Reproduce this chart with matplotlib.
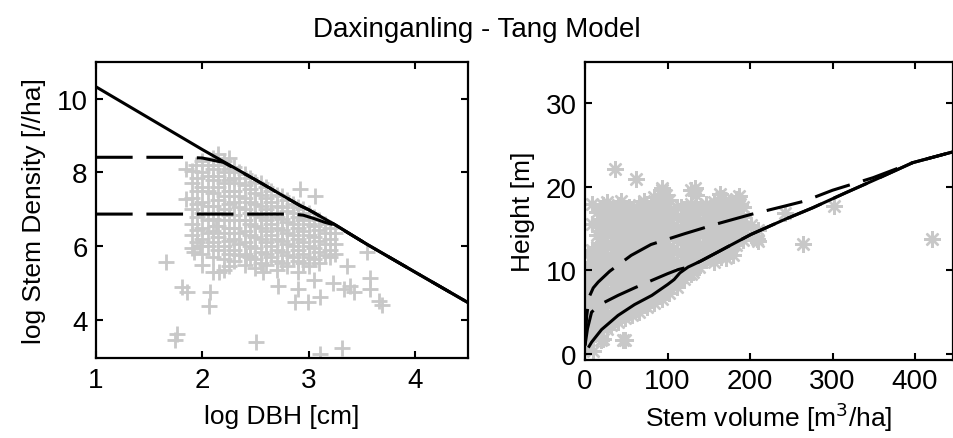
import numpy as np
import matplotlib.pyplot as plt

plt.rcParams['font.family'] = ['Liberation Sans', 'DejaVu Sans']

gray = '#c8c8c8'

# ---- left panel: log DBH vs log stem density ----
# scattered outliers
out_l_x = [1.66, 1.81, 1.86, 2.07, 2.06, 1.76, 1.74, 2.51, 3.11, 3.31, 3.66, 3.58, 3.58, 3.69,
           3.39, 3.33, 3.43, 3.23, 3.11, 3.05, 2.99, 2.87, 2.90, 2.71, 2.57, 3.55, 3.36, 2.92,
           3.06, 1.85, 1.85, 1.94, 1.98, 1.92, 2.16, 2.25, 2.41, 2.13]
out_l_y = [5.56, 4.88, 4.75, 4.76, 4.38, 3.61, 3.45, 3.39, 3.07, 3.25, 4.52, 5.15, 4.85, 4.40,
           4.93, 4.84, 4.76, 5.00, 4.61, 5.09, 4.50, 4.50, 4.83, 4.93, 5.29, 5.83, 5.47, 7.55,
           7.37, 7.28, 8.10, 8.19, 6.01, 5.83, 5.29, 5.47, 5.74, 6.55]
# dense cloud, column by column
col_l_x = [1.90, 1.95, 2.00, 2.05, 2.10, 2.15, 2.20, 2.25, 2.30, 2.35, 2.40, 2.45, 2.50,
           2.55, 2.60, 2.65, 2.70, 2.75, 2.80, 2.85, 2.90, 2.95, 3.00, 3.05, 3.10, 3.15,
           3.20, 3.25]
col_l_y = [[8.05, 7.70, 7.30, 7.00, 6.60, 6.30, 5.95],
           [7.85, 7.50, 7.15, 6.80, 6.45, 6.10],
           [8.30, 8.00, 7.60, 7.20, 6.90, 6.50, 6.20, 5.80, 5.50],
           [8.20, 7.90, 7.50, 7.10, 6.70, 6.35, 6.00],
           [8.40, 8.10, 7.80, 7.45, 7.10, 6.75, 6.40, 6.10, 5.70, 5.30],
           [8.50, 8.20, 7.90, 7.60, 7.25, 6.90, 6.55, 6.25, 5.90],
           [8.30, 8.00, 7.70, 7.35, 7.00, 6.70, 6.35, 6.00, 5.65, 5.35],
           [8.40, 8.10, 7.80, 7.50, 7.15, 6.85, 6.50, 6.15, 5.80],
           [8.15, 7.85, 7.50, 7.20, 6.85, 6.50, 6.20, 5.90, 5.60],
           [8.00, 7.70, 7.35, 7.05, 6.70, 6.35, 6.05, 5.75],
           [7.95, 7.65, 7.30, 7.00, 6.70, 6.40, 6.10, 5.80, 5.50],
           [7.85, 7.55, 7.20, 6.90, 6.60, 6.30, 6.00, 5.70],
           [7.75, 7.45, 7.15, 6.85, 6.55, 6.25, 5.95, 5.65, 5.40],
           [7.70, 7.40, 7.10, 6.80, 6.50, 6.20, 5.85, 5.55],
           [7.60, 7.30, 7.00, 6.70, 6.40, 6.10, 5.80, 5.50],
           [7.50, 7.20, 6.90, 6.60, 6.30, 6.00, 5.70],
           [7.40, 7.10, 6.80, 6.50, 6.20, 5.90, 5.60, 5.35],
           [7.35, 7.05, 6.75, 6.45, 6.15, 5.85, 5.55],
           [7.25, 6.95, 6.65, 6.35, 6.05, 5.75, 5.45],
           [7.15, 6.90, 6.60, 6.30, 6.00, 5.70],
           [7.05, 6.80, 6.50, 6.20, 5.90, 5.60, 5.30],
           [7.00, 6.70, 6.40, 6.10, 5.80, 5.55],
           [6.90, 6.60, 6.30, 6.00, 5.70, 5.45],
           [6.80, 6.55, 6.25, 5.95, 5.65],
           [6.70, 6.45, 6.15, 5.85, 5.55],
           [6.60, 6.35, 6.05, 5.75],
           [6.50, 6.20, 5.90, 5.70],
           [6.35, 6.05, 5.80]]

solid_l_x = [1.0, 1.5, 2.0, 2.5, 2.92, 3.0, 3.25, 3.55, 4.0, 4.5]
solid_l_y = [10.32, 9.47, 8.62, 7.80, 7.10, 6.99, 6.58, 6.05, 5.30, 4.47]
dash1_l_x = [1.0, 1.8, 2.0, 2.1, 2.2, 2.5, 2.92, 3.0, 3.25, 3.55, 4.0, 4.5]
dash1_l_y = [8.41, 8.41, 8.39, 8.33, 8.27, 7.80, 7.10, 6.99, 6.58, 6.05, 5.30, 4.47]
dash2_l_x = [1.0, 2.85, 2.95, 3.05, 3.15, 3.25, 3.55, 4.0, 4.5]
dash2_l_y = [6.87, 6.87, 6.84, 6.75, 6.65, 6.57, 6.05, 5.30, 4.47]

# ---- right panel: stem volume vs height ----
out_r_x = [36, 62, 93, 133, 264, 421, 302, 242, 46, 20, 10, 179, 171, 208, 195, 187, 163, 131, 123, 115]
out_r_y = [22.1, 20.9, 19.9, 19.9, 13.2, 13.8, 17.7, 16.9, 1.6, 1.6, 0.3, 11.8, 11.5, 13.8, 15.4,
           18.9, 19.1, 9.8, 9.5, 9.2]
col_r_x = [1, 4, 8, 14, 18, 22, 27, 31, 36, 40, 44, 48, 53, 57, 62, 66, 71, 75, 80, 84, 89,
           93, 98, 102, 107, 111, 116, 120, 125, 129, 134, 138, 143, 147, 152, 156, 161, 165,
           170, 174, 179, 183, 188, 192, 201, 210]
col_r_y = [[0.8, 2.5, 4.0, 5.5, 7.0, 8.5, 10.0],
           [1.5, 3.0, 4.5, 6.0, 7.5, 9.0, 10.5, 12.0],
           [2.2, 3.8, 5.2, 6.6, 8.0, 9.4, 11.0, 12.5, 15.5, 18.0],
           [2.8, 4.3, 5.8, 7.2, 8.6, 10.0, 11.4, 12.8, 14.2, 15.6, 17.0],
           [3.5, 4.9, 6.3, 7.7, 9.1, 10.5, 11.9, 13.3, 14.7, 16.1, 17.5],
           [1.8, 3.6, 5.0, 6.4, 7.8, 9.2, 10.6, 12.0, 13.4, 14.8, 16.2, 17.8],
           [3.0, 4.4, 5.8, 7.2, 8.6, 10.0, 11.4, 12.8, 14.2, 15.6, 17.0, 18.2],
           [3.5, 4.9, 6.3, 7.7, 9.1, 10.5, 11.9, 13.3, 14.7, 16.1, 17.3],
           [4.2, 5.6, 7.0, 8.4, 9.8, 11.2, 12.6, 14.0, 15.4, 16.8],
           [3.8, 5.2, 6.6, 8.0, 9.4, 10.8, 12.2, 13.6, 15.0, 16.4, 17.8],
           [4.5, 5.9, 7.3, 8.7, 10.1, 11.5, 12.9, 14.3, 15.7, 17.1, 18.3],
           [1.6, 4.3, 5.7, 7.1, 8.5, 9.9, 11.3, 12.7, 14.1, 15.5, 16.9],
           [5.0, 6.4, 7.8, 9.2, 10.6, 12.0, 13.4, 14.8, 16.2, 17.6],
           [4.6, 6.0, 7.4, 8.8, 10.2, 11.6, 13.0, 14.4, 15.8, 17.4],
           [5.4, 6.8, 8.2, 9.6, 11.0, 12.4, 13.8, 15.2, 16.6],
           [5.0, 6.4, 7.8, 9.2, 10.6, 12.0, 13.4, 14.8, 16.2, 17.8],
           [5.9, 7.3, 8.7, 10.1, 11.5, 12.9, 14.3, 15.7, 17.1, 18.3],
           [5.6, 7.0, 8.4, 9.8, 11.2, 12.6, 14.0, 15.4, 16.8],
           [6.5, 7.9, 9.3, 10.7, 12.1, 13.5, 14.9, 16.3, 17.7],
           [6.1, 7.5, 8.9, 10.3, 11.7, 13.1, 14.5, 15.9, 17.3, 18.8],
           [7.0, 8.4, 9.8, 11.2, 12.6, 14.0, 15.4, 16.8, 18.4],
           [6.6, 8.0, 9.4, 10.8, 12.2, 13.6, 15.0, 16.4, 17.8, 19.6],
           [7.6, 9.0, 10.4, 11.8, 13.2, 14.6, 16.0, 17.4, 19.0],
           [7.3, 8.7, 10.1, 11.5, 12.9, 14.3, 15.7, 17.1, 18.4],
           [8.4, 9.8, 11.2, 12.6, 14.0, 15.4, 16.8],
           [8.0, 9.4, 10.8, 12.2, 13.6, 15.0, 16.4, 17.6],
           [9.2, 10.6, 12.0, 13.4, 14.8, 16.2, 17.6],
           [9.0, 10.4, 11.8, 13.2, 14.6, 16.0, 17.4],
           [10.0, 11.4, 12.8, 14.2, 15.6, 17.0],
           [9.6, 11.0, 12.4, 13.8, 15.2, 16.6, 18.0, 19.6],
           [10.6, 12.0, 13.4, 14.8, 16.2, 17.6, 19.0],
           [10.4, 11.8, 13.2, 14.6, 16.0, 17.4],
           [11.4, 12.8, 14.2, 15.6, 17.0],
           [11.2, 12.6, 14.0, 15.4, 16.8, 18.0],
           [11.8, 13.2, 14.6, 16.0, 17.4],
           [11.0, 12.4, 13.8, 15.2, 16.6, 18.2],
           [12.2, 13.6, 15.0, 16.4, 17.8],
           [11.6, 13.0, 14.4, 15.8, 17.2, 18.7],
           [12.8, 14.2, 15.6, 17.0, 18.4],
           [12.2, 13.6, 15.0, 16.4, 17.8],
           [13.4, 14.8, 16.2, 17.6],
           [13.0, 14.4, 15.8, 17.2, 18.6],
           [14.0, 15.4, 16.8, 18.0],
           [13.6, 15.0, 16.4, 17.6],
           [14.2, 15.4],
           [13.5, 14.8]]

solid_r_x = [5, 8, 20, 40, 60, 81, 100, 108, 115, 125, 140, 161, 180, 201, 242, 276, 316, 357, 397, 446]
solid_r_y = [0.9, 1.4, 2.9, 4.6, 5.9, 7.0, 8.3, 8.9, 9.7, 10.4, 11.1, 12.2, 13.2, 14.3, 16.1, 17.5,
             19.3, 21.1, 22.9, 24.2]
dash1_r_x = [0, 2, 5, 10, 16, 30, 56, 80, 121, 161, 201, 242, 266, 300, 349, 397, 446]
dash1_r_y = [1.0, 4.5, 6.8, 7.9, 8.6, 9.9, 11.8, 13.1, 14.4, 15.6, 16.7, 17.7, 18.3, 19.6, 21.1, 22.9, 24.2]
dash2_r_x = [0, 3, 8, 20, 40, 60, 81, 100, 113, 125, 140, 161, 180, 201, 242, 276, 316, 357, 397, 446]
dash2_r_y = [1.0, 3.0, 5.0, 6.0, 7.0, 7.9, 8.8, 9.6, 10.1, 10.4, 11.1, 12.2, 13.2, 14.3, 16.1, 17.5,
             19.3, 21.1, 22.9, 24.2]


def flatten(cx, cy):
    xs = np.concatenate([np.full(len(c), x, dtype=float) for x, c in zip(cx, cy)])
    ys = np.concatenate([np.asarray(c, dtype=float) for c in cy])
    return xs, ys


cl_x, cl_y = flatten(col_l_x, col_l_y)
cr_x, cr_y = flatten(col_r_x, col_r_y)

fs = 20
fs_lab = 19
fig = plt.figure(figsize=(9.54, 4.39), dpi=100)
ax1 = fig.add_axes([0.1006, 0.1815, 0.390, 0.6756])
ax2 = fig.add_axes([0.6132, 0.1784, 0.3858, 0.6788])

dash = (12, 4.5)
lw = 2.2

ax1.plot(out_l_x, out_l_y, '+', color=gray, ms=12, mew=2, zorder=1)
ax1.plot(cl_x, cl_y, '+', color=gray, ms=12, mew=2, zorder=1)
ax1.plot(solid_l_x, solid_l_y, '-', color='k', lw=lw, zorder=3)
ax1.plot(dash1_l_x, dash1_l_y, '--', color='k', lw=lw, dashes=dash, zorder=3)
ax1.plot(dash2_l_x, dash2_l_y, '--', color='k', lw=lw, dashes=dash, zorder=3)
ax1.set_xlim(1, 4.5)
ax1.set_ylim(2.96, 11.0)
ax1.set_xticks([1, 2, 3, 4])
ax1.set_yticks([4, 6, 8, 10])
ax1.set_xlabel('log DBH [cm]', fontsize=fs_lab, labelpad=8)
ax1.set_ylabel('log Stem Density [//ha]', fontsize=fs_lab, labelpad=8)

ast = (8, 2, 0)
ax2.plot(out_r_x, out_r_y, marker=ast, ls='none', color=gray, ms=12, mew=1.7, zorder=1)
ax2.plot(cr_x, cr_y, marker=ast, ls='none', color=gray, ms=12, mew=1.7, zorder=1)
ax2.plot(solid_r_x, solid_r_y, '-', color='k', lw=lw, zorder=3)
ax2.plot(dash1_r_x, dash1_r_y, '--', color='k', lw=lw, dashes=dash, zorder=3)
ax2.plot(dash2_r_x, dash2_r_y, '--', color='k', lw=lw, dashes=dash, zorder=3)
ax2.set_xlim(0, 446)
ax2.set_ylim(-0.7, 35)
ax2.set_xticks([0, 100, 200, 300, 400])
ax2.set_yticks([0, 10, 20, 30])
ax2.set_xlabel('Stem volume [m$^3$/ha]', fontsize=fs_lab, labelpad=4)
ax2.set_ylabel('Height [m]', fontsize=fs_lab, labelpad=8)

for ax in (ax1, ax2):
    ax.tick_params(direction='in', length=5, width=1.5, top=True, right=True,
                   labelsize=fs, pad=6)
    for s in ax.spines.values():
        s.set_linewidth(1.6)

fig.text(0.5, 0.932, 'Daxinganling - Tang Model', ha='center', va='center', fontsize=fs)

fig.savefig('out.png', dpi=100)
